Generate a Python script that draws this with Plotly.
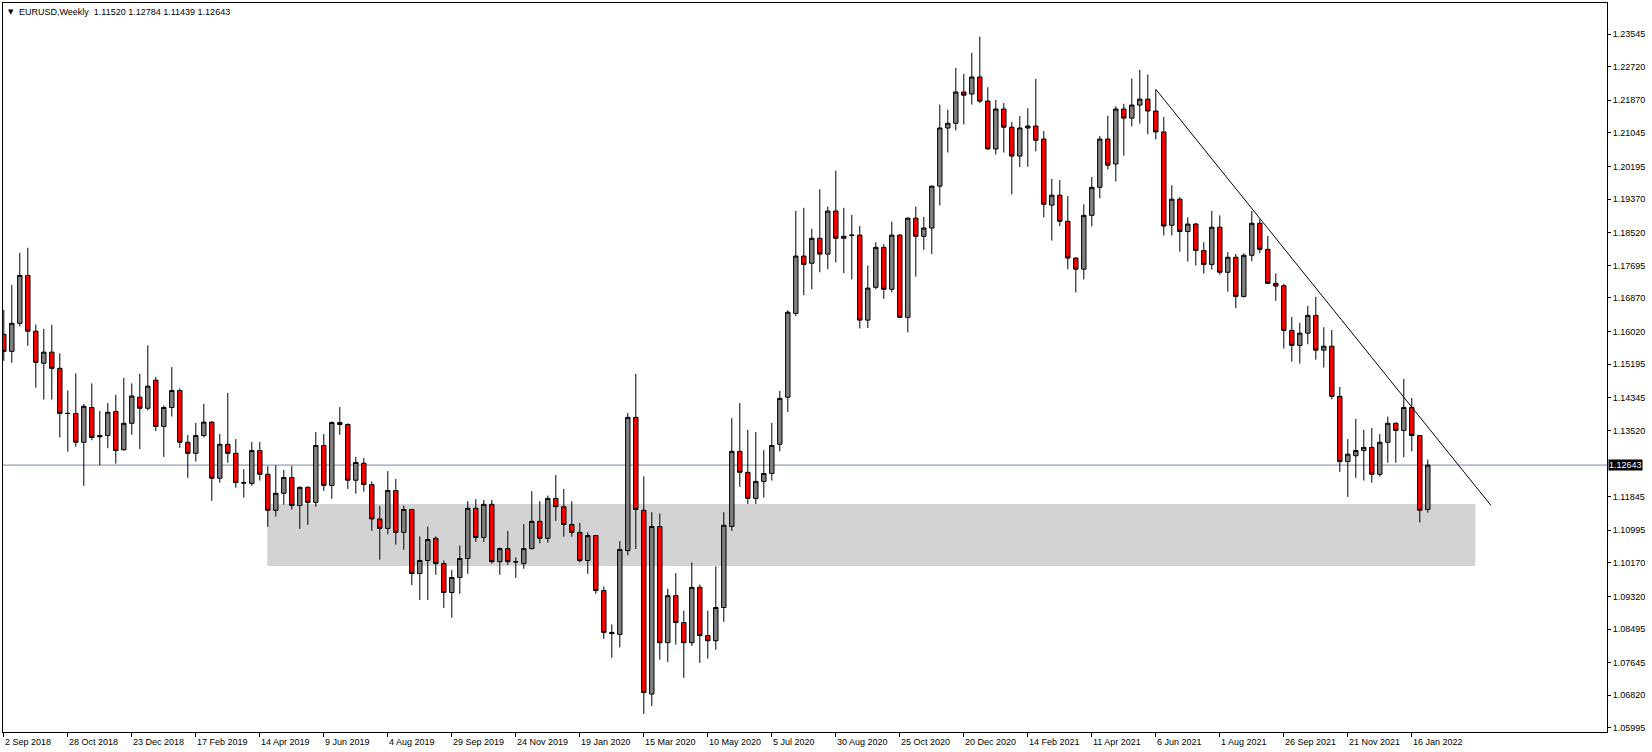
import plotly.graph_objects as go

# ---- data (EURUSD weekly) ----
open_ = [1.1595,1.1552,1.1623,1.1744,1.1603,1.1522,1.1550,1.1509,1.1395,1.1395,
         1.1322,1.1410,1.1339,1.1339,1.1400,1.1303,1.1370,1.1436,1.1408,1.1479,
         1.1362,1.1410,1.1453,1.1322,1.1294,1.1339,1.1373,1.1231,1.1317,1.1294,
         1.1220,1.1218,1.1301,1.1241,1.1150,1.1193,1.1233,1.1162,1.1208,1.1170,
         1.1314,1.1213,1.1372,1.1367,1.1226,1.1269,1.1215,1.1128,1.1104,1.1200,
         1.1094,1.1152,1.0990,1.1023,1.1079,1.1015,1.0942,1.0980,1.1028,1.1155,
         1.1081,1.1165,1.1020,1.1053,1.1019,1.1015,1.1053,1.1122,1.1079,1.1180,
         1.1159,1.1114,1.1094,1.1023,1.1086,1.0947,1.0841,1.0836,1.1048,1.1385,
         1.1150,1.0685,1.1109,1.0815,1.0934,1.0866,1.0815,1.0955,1.0833,1.0820,
         1.0904,1.1109,1.1299,1.1246,1.1180,1.1223,1.1243,1.1317,1.1436,1.1648,
         1.1793,1.1775,1.1838,1.1798,1.1907,1.1838,1.1845,1.1846,1.1631,1.1714,
         1.1815,1.1709,1.1846,1.1638,1.1889,1.1843,1.1864,1.1970,1.2117,1.2129,
         1.2208,1.2203,1.2246,1.2185,1.2064,1.2165,1.2119,1.2046,1.2117,1.2122,
         1.2089,1.1922,1.1947,1.1881,1.1788,1.1760,1.1896,1.1967,1.2089,1.2026,
         1.2165,1.2142,1.2175,1.2190,1.2160,1.2107,1.1871,1.1937,1.1855,1.1874,
         1.1807,1.1772,1.1866,1.1752,1.1790,1.1691,1.1795,1.1876,1.1810,1.1724,
         1.1718,1.1605,1.1567,1.1598,1.1643,1.1555,1.1565,1.1438,1.1273,1.1288,
         1.1301,1.1309,1.1241,1.1322,1.1370,1.1352,1.1410,1.1339,1.11520]
high = [1.1657,1.1720,1.1801,1.1814,1.1620,1.1609,1.1619,1.1547,1.1453,1.1496,
        1.1419,1.1471,1.1401,1.1421,1.1442,1.1485,1.1471,1.1495,1.1567,1.1487,
        1.1415,1.1512,1.1458,1.1340,1.1371,1.1419,1.1375,1.1343,1.1447,1.1330,
        1.1254,1.1323,1.1323,1.1262,1.1264,1.1252,1.1262,1.1210,1.1210,1.1348,
        1.1343,1.1375,1.1411,1.1370,1.1285,1.1282,1.1223,1.1161,1.1249,1.1229,
        1.1162,1.1153,1.1084,1.1109,1.1084,1.1023,1.0999,1.1061,1.1173,1.1178,
        1.1176,1.1176,1.1056,1.1098,1.1031,1.1115,1.1198,1.1173,1.1187,1.1239,
        1.1204,1.1173,1.1118,1.1094,1.1087,1.0957,1.0861,1.1072,1.1396,1.1495,
        1.1236,1.1145,1.1142,1.0952,1.0991,1.0896,1.1018,1.0962,1.0896,1.1008,
        1.1145,1.1383,1.1421,1.1353,1.1348,1.1302,1.1371,1.1452,1.1656,1.1907,
        1.1915,1.1862,1.1962,1.1918,1.2009,1.1915,1.1897,1.1869,1.1769,1.1828,
        1.1823,1.1880,1.1849,1.1891,1.1918,1.1892,1.1971,1.2176,1.2163,1.2269,
        1.2254,1.2307,1.2348,1.2220,1.2188,1.2180,1.2132,1.2147,1.2167,1.2241,
        1.2109,1.1988,1.1985,1.1945,1.1790,1.1924,1.1993,1.2097,1.2148,1.2172,
        1.2178,1.2242,1.2264,1.2252,1.2214,1.2145,1.1972,1.1942,1.1891,1.1877,
        1.1828,1.1907,1.1896,1.1803,1.1798,1.1800,1.1907,1.1886,1.1844,1.1749,
        1.1723,1.1639,1.1624,1.1667,1.1690,1.1613,1.1606,1.1462,1.1330,1.1381,
        1.1353,1.1358,1.1343,1.1387,1.1372,1.1482,1.1434,1.1340,1.12784]
low = [1.1528,1.1523,1.1615,1.1566,1.1460,1.1430,1.1430,1.1334,1.1298,1.1311,
       1.1212,1.1327,1.1264,1.1307,1.1268,1.1301,1.1341,1.1305,1.1403,1.1350,
       1.1285,1.1387,1.1308,1.1232,1.1273,1.1334,1.1174,1.1220,1.1270,1.1207,
       1.1182,1.1212,1.1225,1.1108,1.1134,1.1164,1.1152,1.1103,1.1113,1.1159,
       1.1199,1.1179,1.1341,1.1204,1.1192,1.1197,1.1098,1.1025,1.1089,1.1063,
       1.1050,1.0961,1.0923,1.0923,1.0987,1.0903,1.0878,1.0939,1.0989,1.1070,
       1.1070,1.1015,1.0987,1.1012,1.0979,1.1002,1.1051,1.1066,1.1068,1.1123,
       1.1083,1.1083,1.1018,1.0989,1.0939,1.0825,1.0777,1.0803,1.1036,1.1052,
       1.0635,1.0655,1.0772,1.0766,1.0810,1.0726,1.0807,1.0764,1.0775,1.0797,
       1.0868,1.1098,1.1209,1.1166,1.1166,1.1182,1.1225,1.1299,1.1399,1.1641,
       1.1694,1.1709,1.1752,1.1760,1.1777,1.1750,1.1734,1.1610,1.1611,1.1709,
       1.1685,1.1701,1.1636,1.1600,1.1741,1.1809,1.1798,1.1921,1.2055,1.2111,
       1.2126,1.2176,1.2180,1.2062,1.2050,1.2055,1.1949,1.2018,1.2019,1.2058,
       1.1891,1.1832,1.1869,1.1760,1.1701,1.1734,1.1868,1.1939,1.2012,1.1982,
       1.2047,1.2121,1.2128,1.2101,1.2088,1.1845,1.1845,1.1804,1.1779,1.1769,
       1.1749,1.1759,1.1746,1.1703,1.1661,1.1688,1.1780,1.1800,1.1722,1.1680,
       1.1559,1.1526,1.1521,1.1570,1.1531,1.1511,1.1431,1.1247,1.1184,1.1232,
       1.1225,1.1220,1.1235,1.1270,1.1270,1.1284,1.1299,1.1119,1.11439]
close = [1.1552,1.1623,1.1744,1.1603,1.1524,1.1550,1.1509,1.1395,1.1395,1.1322,
         1.1413,1.1334,1.1336,1.1398,1.1301,1.1370,1.1439,1.1408,1.1464,1.1362,
         1.1410,1.1453,1.1322,1.1294,1.1339,1.1373,1.1231,1.1317,1.1294,1.1220,
         1.1219,1.1301,1.1241,1.1150,1.1193,1.1233,1.1162,1.1208,1.1170,1.1314,
         1.1213,1.1372,1.1367,1.1226,1.1271,1.1215,1.1128,1.1104,1.1200,1.1094,
         1.1152,1.0990,1.1023,1.1076,1.1015,1.0942,1.0980,1.1028,1.1155,1.1081,
         1.1165,1.1020,1.1053,1.1020,1.1020,1.1053,1.1122,1.1079,1.1180,1.1159,
         1.1114,1.1094,1.1023,1.1086,1.0947,1.0841,1.0838,1.1051,1.1385,1.1152,
         1.0689,1.1109,1.0815,1.0934,1.0866,1.0815,1.0955,1.0833,1.0820,1.0904,
         1.1112,1.1299,1.1246,1.1180,1.1223,1.1243,1.1314,1.1433,1.1651,1.1793,
         1.1772,1.1838,1.1798,1.1907,1.1838,1.1843,1.1846,1.1631,1.1712,1.1815,
         1.1709,1.1846,1.1638,1.1889,1.1843,1.1864,1.1970,1.2117,1.2129,1.2208,
         1.2200,1.2246,1.2185,1.2064,1.2165,1.2119,1.2046,1.2117,1.2122,1.2086,
         1.1924,1.1947,1.1881,1.1788,1.1760,1.1896,1.1967,1.2089,1.2023,1.2165,
         1.2142,1.2175,1.2190,1.2160,1.2107,1.1869,1.1937,1.1855,1.1874,1.1807,
         1.1772,1.1866,1.1752,1.1790,1.1691,1.1795,1.1876,1.1810,1.1724,1.1717,
         1.1605,1.1567,1.1598,1.1643,1.1555,1.1565,1.1438,1.1273,1.1292,1.1301,
         1.1309,1.1241,1.1322,1.1370,1.1352,1.1410,1.1339,1.1150,1.12643]

date_labels = ["2 Sep 2018","28 Oct 2018","23 Dec 2018","17 Feb 2019","14 Apr 2019",
               "9 Jun 2019","4 Aug 2019","29 Sep 2019","24 Nov 2019","19 Jan 2020",
               "15 Mar 2020","10 May 2020","5 Jul 2020","30 Aug 2020","25 Oct 2020",
               "20 Dec 2020","14 Feb 2021","11 Apr 2021","6 Jun 2021","1 Aug 2021",
               "26 Sep 2021","21 Nov 2021","16 Jan 2022"]
label_step = 8  # weeks between date labels

price_ticks = [1.23545,1.22720,1.21870,1.21045,1.20195,1.19370,1.18520,1.17695,
               1.16870,1.16020,1.15195,1.14345,1.13520,1.11845,1.10995,1.10170,
               1.09320,1.08495,1.07645,1.06820,1.05995]

last_price = 1.12643
zone_top, zone_bottom = 1.1166, 1.1009
zone_start, zone_end = 32.94, 183.94          # in weeks from first bar
trend_start = (144, 1.2215)
trend_end = (185.9, 1.1162)

FONT = "Liberation Sans, Arial, sans-serif"
FS = 9

x = list(range(len(close)))

fig = go.Figure(go.Candlestick(
    x=x, open=open_, high=high, low=low, close=close,
    increasing=dict(fillcolor="#808080", line=dict(color="black", width=1)),
    decreasing=dict(fillcolor="#FF0000", line=dict(color="black", width=1)),
    whiskerwidth=0, showlegend=False, hoverinfo="skip",
))

# support zone
fig.add_shape(type="rect", xref="x", yref="y", x0=zone_start, x1=zone_end,
              y0=zone_bottom, y1=zone_top, fillcolor="#D3D3D3",
              line=dict(width=0), layer="below")
# last price line
fig.add_shape(type="line", xref="paper", yref="y", x0=0, x1=1,
              y0=last_price, y1=last_price,
              line=dict(color="#778899", width=1), layer="below")
# trend line
fig.add_shape(type="line", xref="x", yref="y",
              x0=trend_start[0], y0=trend_start[1], x1=trend_end[0], y1=trend_end[1],
              line=dict(color="black", width=1), layer="above")

tickpos = [i * label_step for i in range(len(date_labels))]
for pos, lab in zip(tickpos, date_labels):
    fig.add_annotation(x=pos, y=0, xref="x", yref="paper", text=lab,
                       showarrow=False, xanchor="left", yanchor="top",
                       xshift=-1, yshift=-3, font=dict(family=FONT, size=FS, color="black"))

# title
fig.add_annotation(x=0, y=1, xref="paper", yref="paper", text="▼",
                   showarrow=False, xanchor="left", yanchor="top", xshift=3, yshift=-3,
                   font=dict(family="DejaVu Sans", size=7, color="black"))
fig.add_annotation(x=0, y=1, xref="paper", yref="paper",
                   text="EURUSD,Weekly\u00a0\u00a01.11520 1.12784 1.11439 1.12643",
                   showarrow=False, xanchor="left", yanchor="top", xshift=14, yshift=-2,
                   font=dict(family=FONT, size=FS, color="black"))

# last price label box
fig.add_annotation(x=1, y=last_price, xref="paper", yref="y",
                   text=f"{last_price:.5f}", showarrow=False, xanchor="left", yanchor="middle",
                   xshift=1, bgcolor="black", borderpad=0,
                   font=dict(family=FONT, size=FS, color="white"))

fig.update_layout(
    width=1652, height=752,
    margin=dict(l=3, r=45, t=3, b=20),
    paper_bgcolor="white", plot_bgcolor="white",
    boxgap=0.45, boxgroupgap=0,
    hovermode=False,
    xaxis=dict(range=[-0.1, 200.4], showgrid=False, zeroline=False,
               showline=True, mirror=True, linecolor="black", linewidth=1,
               ticks="outside", ticklen=4, tickcolor="black",
               tickvals=tickpos, showticklabels=False,
               rangeslider=dict(visible=False)),
    yaxis=dict(range=[1.05891, 1.24332], side="right", showgrid=False, zeroline=False,
               showline=True, mirror=True, linecolor="black", linewidth=1,
               ticks="outside", ticklen=3, tickcolor="black",
               tickvals=price_ticks, ticktext=[f"{v:.5f}" for v in price_ticks],
               tickfont=dict(family=FONT, size=FS, color="black")),
)

fig.write_html("out.html", config={"displayModeBar": False},
               post_script="document.body.style.margin='0';document.body.style.overflow='hidden';")
